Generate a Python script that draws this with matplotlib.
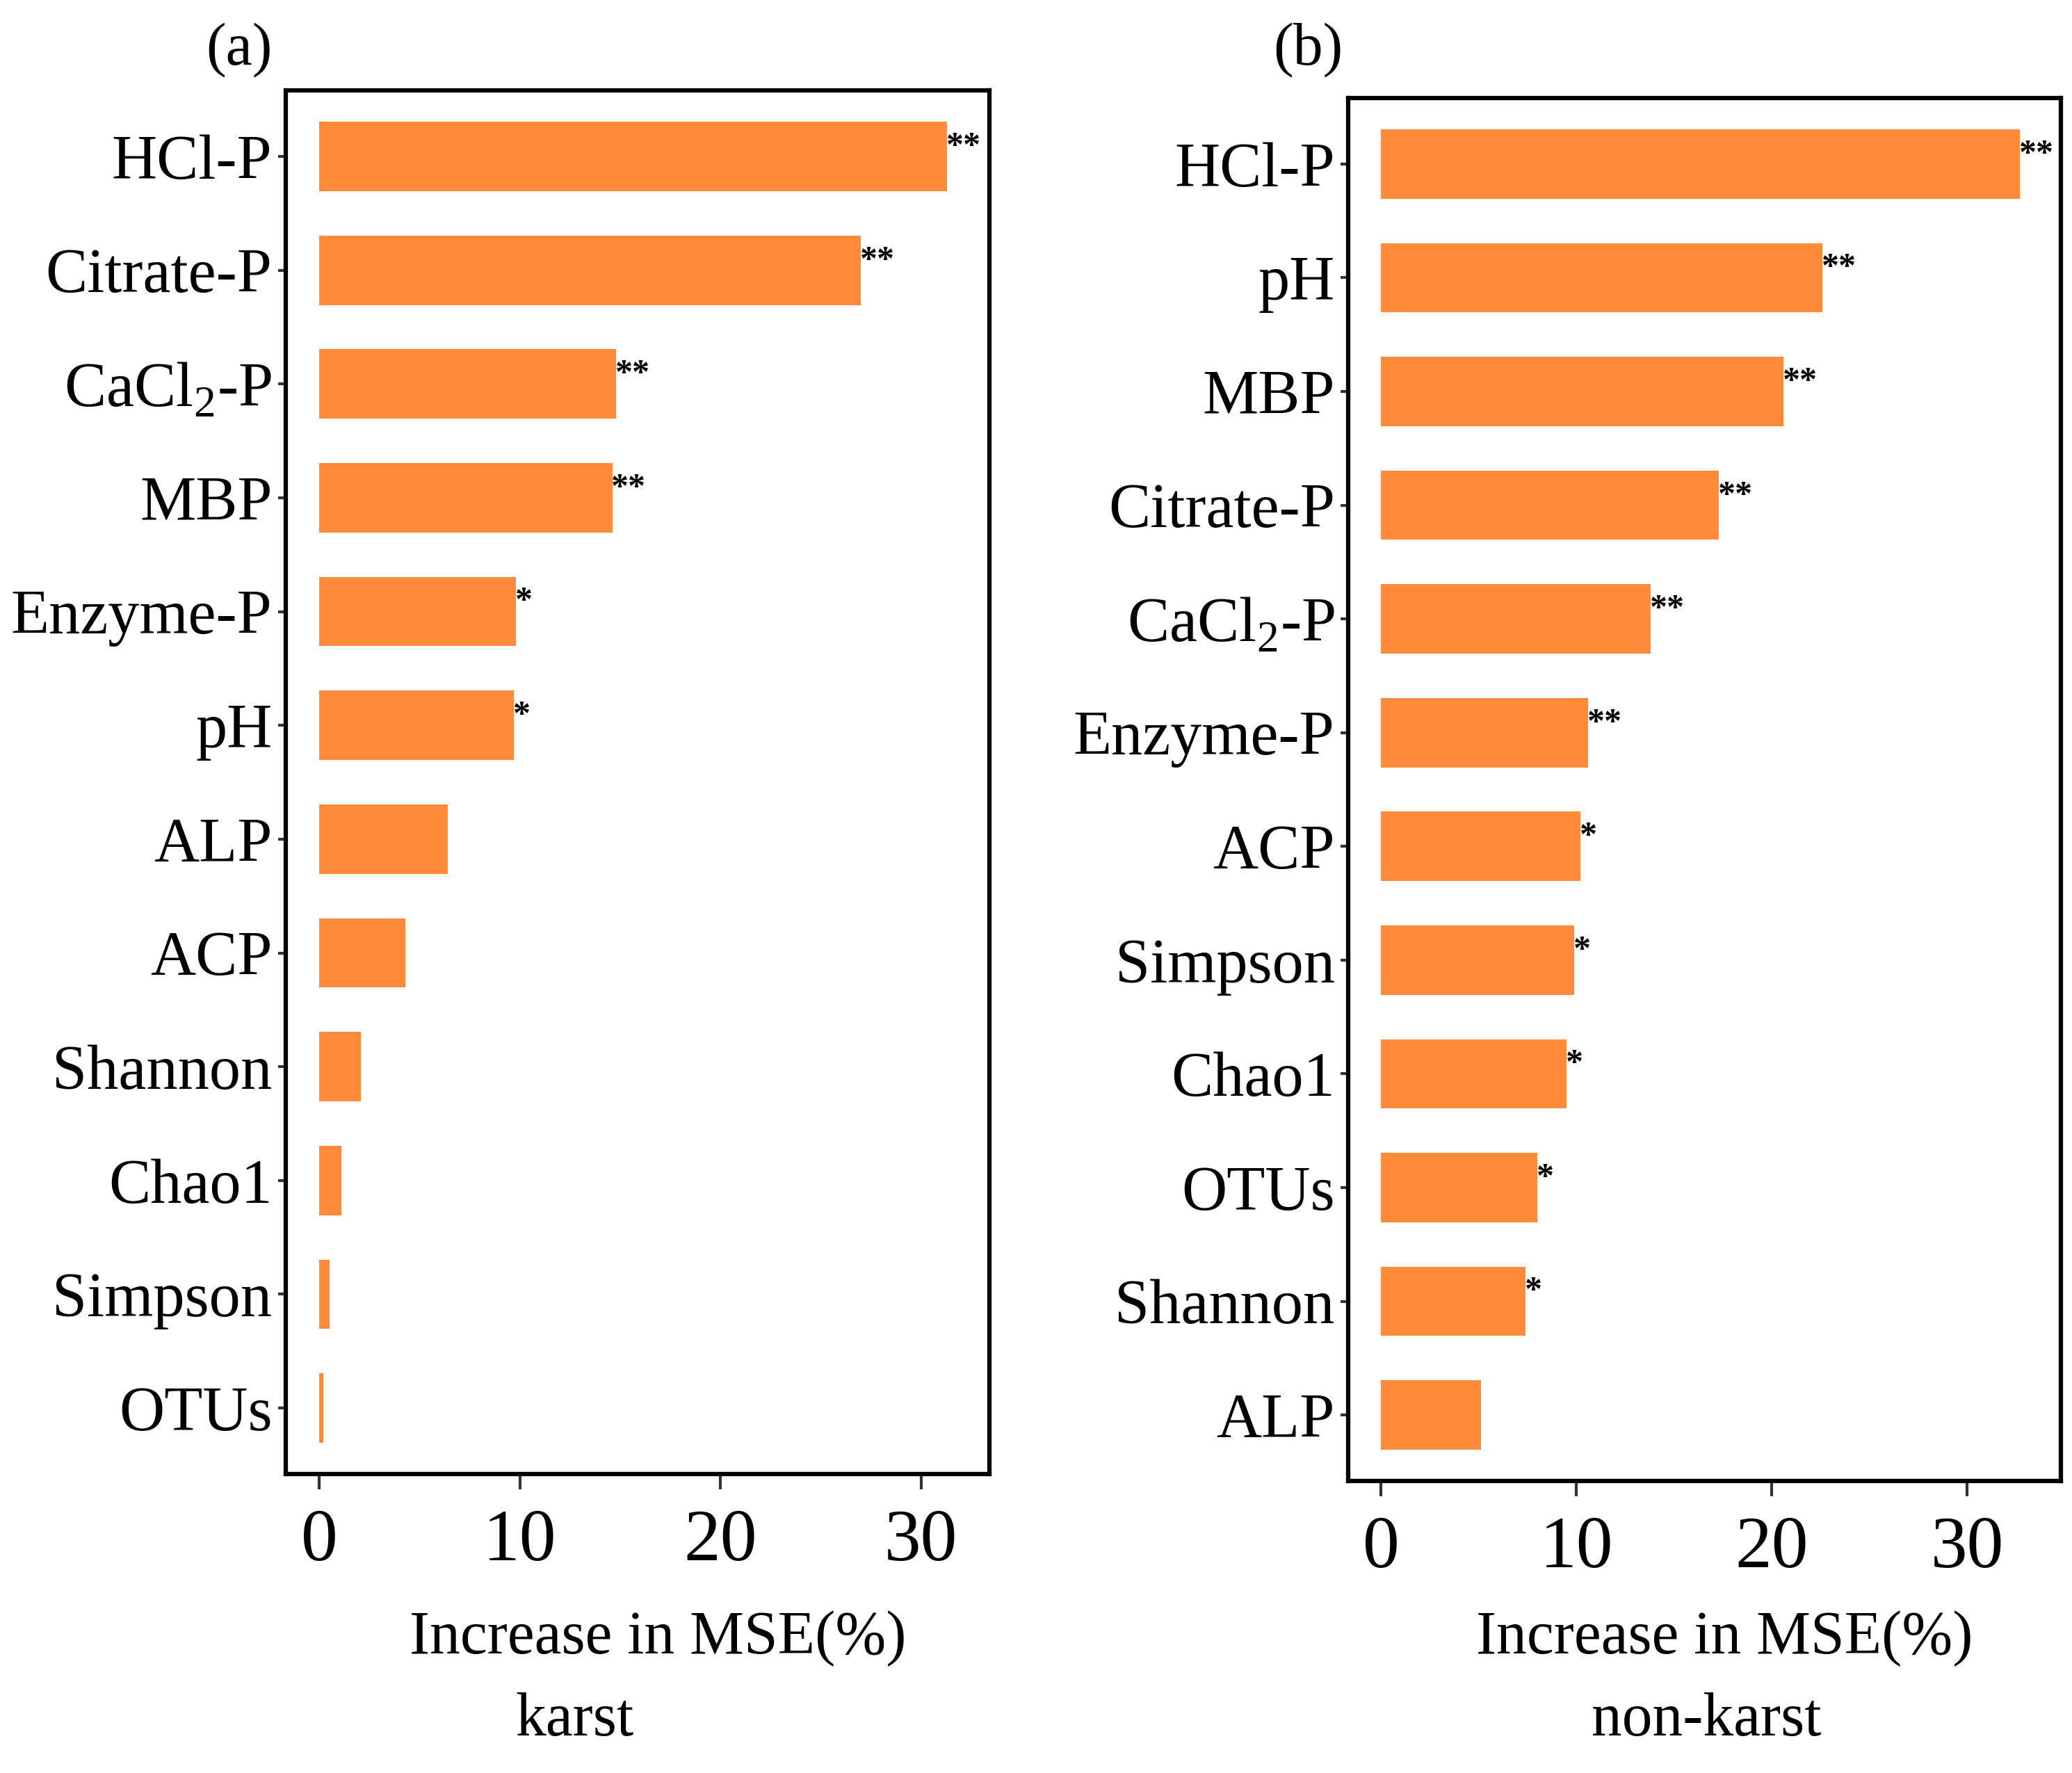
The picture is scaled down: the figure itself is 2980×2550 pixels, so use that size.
import matplotlib.pyplot as plt

plt.rcParams['font.family'] = ['Liberation Serif', 'DejaVu Serif']
plt.rcParams['mathtext.fontset'] = 'custom'
plt.rcParams['mathtext.rm'] = 'Liberation Serif'

# karst panel (top to bottom)
karst_vars = ['HCl-P', 'Citrate-P', r'CaCl$_{\mathrm{2}}$-P', 'MBP', 'Enzyme-P', 'pH',
              'ALP', 'ACP', 'Shannon', 'Chao1', 'Simpson', 'OTUs']
karst_vals = [31.3, 27.0, 14.8, 14.6, 9.8, 9.7, 6.4, 4.3, 2.05, 1.1, 0.5, 0.2]
karst_sig = ['**', '**', '**', '**', '*', '*', '', '', '', '', '', '']

# non-karst panel
nonkarst_vars = ['HCl-P', 'pH', 'MBP', 'Citrate-P', r'CaCl$_{\mathrm{2}}$-P', 'Enzyme-P',
                 'ACP', 'Simpson', 'Chao1', 'OTUs', 'Shannon', 'ALP']
nonkarst_vals = [32.7, 22.6, 20.6, 17.3, 13.8, 10.6, 10.2, 9.9, 9.5, 8.0, 7.4, 5.1]
nonkarst_sig = ['**', '**', '**', '**', '**', '**', '*', '*', '*', '*', '*', '']

bar_color = '#FF8B3A'

fig = plt.figure(figsize=(29.8, 25.5), dpi=100)


def draw_panel(rect, names, vals, sig, xmax, tag, tag_xy, sub, sub_x, main_x):
    ax = fig.add_axes(rect)
    pos = list(range(len(names)))[::-1]
    ax.barh(pos, vals, height=0.61, color=bar_color)
    for p, v, s in zip(pos, vals, sig):
        if s:
            ax.text(v - 0.05, p + 0.08, s, fontsize=36, fontweight='bold',
                    ha='left', va='center')
    ax.set_yticks(pos)
    ax.set_yticklabels(names, fontsize=65)
    ax.set_xticks([0, 10, 20, 30])
    ax.set_xticklabels(['0', '10', '20', '30'], fontsize=76)
    ax.set_xlim(-1.68, xmax)
    ax.set_ylim(-0.58, len(names) - 0.42)
    for sp in ax.spines.values():
        sp.set_linewidth(4.5)
        sp.set_color('black')
    ax.tick_params(axis='y', length=8, width=3, color='#333333', pad=6)
    ax.tick_params(axis='x', length=16, width=3, color='#333333', pad=20)
    fig.text(tag_xy[0], tag_xy[1], tag, fontsize=62, ha='center', va='center')
    fig.text(main_x, 0.0675, 'Increase in MSE(%)', fontsize=63, ha='center', va='baseline')
    fig.text(sub_x, 0.021, sub, fontsize=63, ha='center', va='baseline')
    return ax


draw_panel([0.1379, 0.1686, 0.3396, 0.7804], karst_vars, karst_vals, karst_sig,
           33.4, '(a)', (0.1155, 0.972), 'karst', 0.2775, 0.3175)
draw_panel([0.6507, 0.1647, 0.3440, 0.7800], nonkarst_vars, nonkarst_vals, nonkarst_sig,
           34.8, '(b)', (0.6315, 0.972), 'non-karst', 0.8235, 0.8322)

plt.savefig('out.png', dpi=100)
